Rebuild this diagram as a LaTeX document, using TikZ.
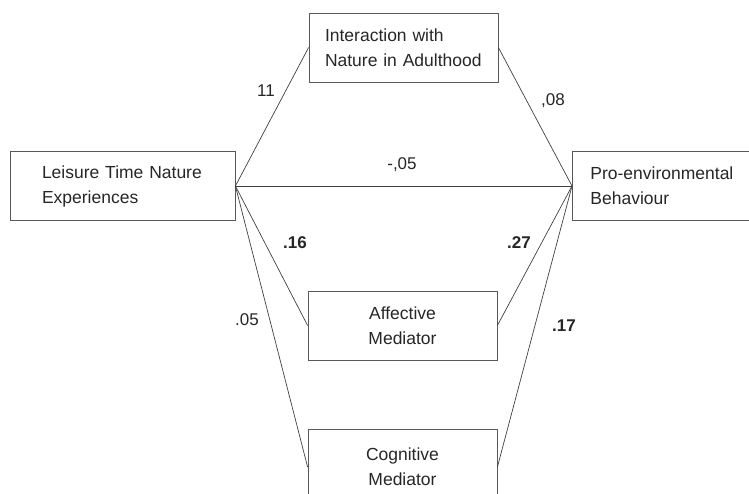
\documentclass[tikz,border=0pt]{standalone}
\usepackage{fontspec}
\setmainfont{Liberation Sans}
\begin{document}
\begin{tikzpicture}[x=1pt,y=-1pt,
    box/.style={draw=black!65,line width=0.8pt,rectangle,minimum height=69pt,
      font=\fontsize{17.5}{25}\selectfont,text=black!85},
    leftbox/.style={box,align=left,inner xsep=0pt},
    midbox/.style={box,align=center,minimum width=189pt,inner xsep=0pt,text width=189pt},
    coef/.style={font=\fontsize{17}{20}\selectfont,text=black!85,inner sep=0pt},
    strong/.style={coef,font=\fontsize{17}{20}\selectfont\bfseries}]
      \useasboundingbox (0,0) rectangle (749,494);
      \clip (0,0) rectangle (749,494);
      \draw
        (122.5,186) node[leftbox,minimum width=225pt,text width=161pt] (lte){Leisure Time Nature\\Experiences}
        (402.5,47.5) node[leftbox,minimum width=189pt,text width=157pt,xshift=1pt] (ina){Interaction with\\Nature in Adulthood}
        (572,186) node[leftbox,anchor=west,minimum width=210pt,text width=174pt] (peb){Pro-environmental\\Behaviour}
        (402.5,325.5) node[midbox] (aff){Affective\\Mediator}
        (402.5,467) node[midbox,minimum height=76pt] (cog){Cognitive\\Mediator};
      \begin{scope}[-,draw=black!75,line width=0.7pt]
        \draw (lte.east) to (ina.west);
        \draw (ina.east) to (peb.west);
        \draw (lte.east) to (peb.west);
        \draw (lte.east) to (aff.west);
        \draw (aff.east) to (peb.west);
        \draw (lte.east) to (cog.west);
        \draw (cog.east) to (peb.west);
      \end{scope}
      \path
        (266,91) node[coef] (c1){11}
        (553,101) node[coef] (c2){,08}
        (402,165) node[coef] (c3){-,05}
        (295,243) node[strong] (c4){.16}
        (519,243) node[strong] (c5){.27}
        (247,320) node[coef] (c6){.05}
        (564,326) node[strong] (c7){.17};
    \end{tikzpicture}
\end{document}
